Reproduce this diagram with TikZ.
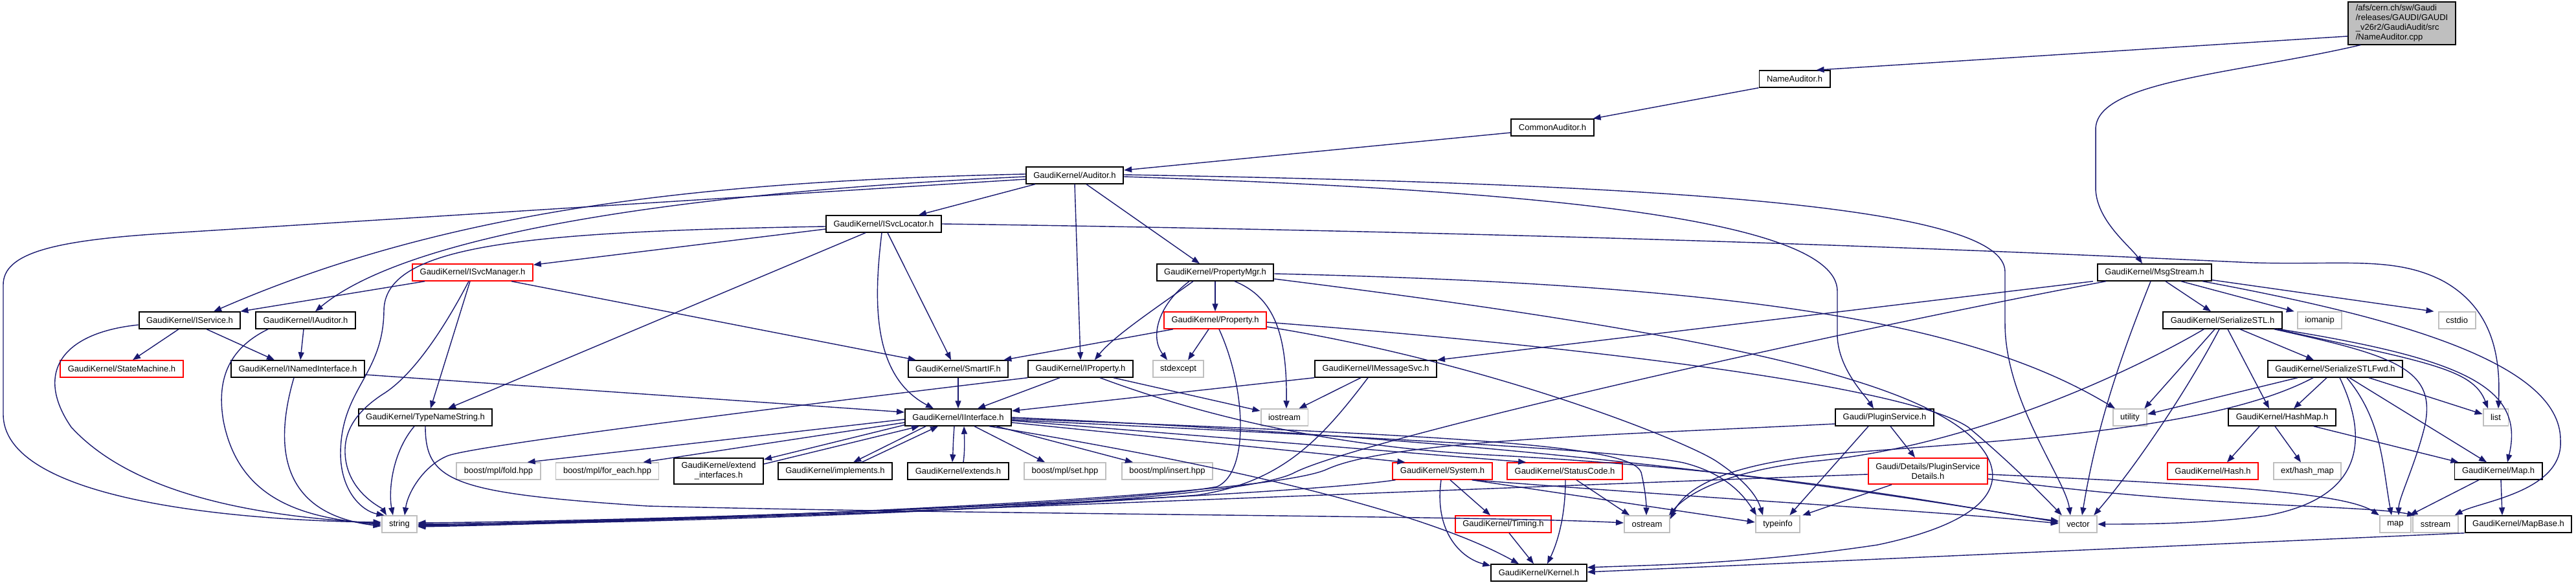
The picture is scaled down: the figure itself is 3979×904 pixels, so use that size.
\documentclass[tikz,border=0pt]{standalone}
\usepackage{fontspec}
\setmainfont{Liberation Sans}
\usetikzlibrary{arrows.meta,calc}
\definecolor{edgec}{HTML}{191970}
\definecolor{grayb}{HTML}{BFBFBF}
\begin{document}
\begin{tikzpicture}[x=0.01cm,y=-0.01cm,
  base/.style={rectangle,font=\fontsize{3.7}{4.27}\selectfont,inner xsep=0.115cm,inner ysep=0pt,minimum height=0.255cm,line width=0.55pt,fill=white},
  nb/.style={base,draw=black},
  ng/.style={base,draw=grayb},
  nr/.style={base,draw=red},
  nroot/.style={base,draw=black,fill=grayb,align=left,inner ysep=0.04cm},
  two/.style={align=center,minimum height=0.4cm},
  e/.style={draw=edgec,line width=0.4pt,-{Triangle[length=0.12cm,width=0.09cm]}},
]
\useasboundingbox (0,0) rectangle (3979,904);
\fill[white] (0,0) rectangle (3979,904);

% ---------- nodes ----------
\node[nroot] (root) at (3710,36) {/afs/cern.ch/sw/Gaudi\\/releases/GAUDI/GAUDI\\\_v26r2/GaudiAudit/src\\/NameAuditor.cpp};
\node[nb] (NameAuditor) at (2772,122) {NameAuditor.h};
\node[nb] (CommonAuditor) at (2398,197) {CommonAuditor.h};
\node[nb] (Auditor) at (1660,271) {GaudiKernel/Auditor.h};
\node[nb] (ISvcLocator) at (1365,346) {GaudiKernel/ISvcLocator.h};
\node[nr] (ISvcManager) at (730,421) {GaudiKernel/ISvcManager.h};
\node[nb] (PropertyMgr) at (1877,421) {GaudiKernel/PropertyMgr.h};
\node[nb] (MsgStream) at (3328,421) {GaudiKernel/MsgStream.h};
\node[nb] (IService) at (293,495) {GaudiKernel/IService.h};
\node[nb] (IAuditor) at (472,495) {GaudiKernel/IAuditor.h};
\node[nr] (Property) at (1877,495) {GaudiKernel/Property.h};
\node[nb] (SerializeSTL) at (3433,495) {GaudiKernel/SerializeSTL.h};
\node[ng] (iomanip) at (3583,495) {iomanip};
\node[ng] (cstdio) at (3795,495) {cstdio};
\node[nr] (StateMachine) at (188,570) {GaudiKernel/StateMachine.h};
\node[nb] (INamedInterface) at (460,570) {GaudiKernel/INamedInterface.h};
\node[nb] (SmartIF) at (1480,570) {GaudiKernel/SmartIF.h};
\node[nb] (IProperty) at (1669,570) {GaudiKernel/IProperty.h};
\node[ng] (stdexcept) at (1820,570) {stdexcept};
\node[nb] (IMessageSvc) at (2125,570) {GaudiKernel/IMessageSvc.h};
\node[nb] (SerializeSTLFwd) at (3607,570) {GaudiKernel/SerializeSTLFwd.h};
\node[nb] (TypeNameString) at (657,645) {GaudiKernel/TypeNameString.h};
\node[nb] (IInterface) at (1480,645) {GaudiKernel/IInterface.h};
\node[ng] (iostream) at (1984,645) {iostream};
\node[nb] (PluginService) at (2911,645) {Gaudi/PluginService.h};
\node[ng] (utility) at (3290,645) {utility};
\node[nb] (HashMap) at (3525,645) {GaudiKernel/HashMap.h};
\node[ng] (list) at (3855,645) {list};
\node[ng] (fold) at (770,728) {boost/mpl/fold.hpp};
\node[ng] (foreach) at (938,728) {boost/mpl/for\_each.hpp};
\node[nb,two] (extendif) at (1110,728) {GaudiKernel/extend\\\_interfaces.h};
\node[nb] (implements) at (1290,728) {GaudiKernel/implements.h};
\node[nb] (extends) at (1480,728) {GaudiKernel/extends.h};
\node[ng] (mplset) at (1645,728) {boost/mpl/set.hpp};
\node[ng] (mplinsert) at (1803,728) {boost/mpl/insert.hpp};
\node[nr] (System) at (2228,728) {GaudiKernel/System.h};
\node[nr] (StatusCode) at (2417,728) {GaudiKernel/StatusCode.h};
\node[nr,two] (PSDetails) at (2978,728) {Gaudi/Details/PluginService\\Details.h};
\node[nr] (Hash) at (3418,728) {GaudiKernel/Hash.h};
\node[ng] (hashmap) at (3564,728) {ext/hash\_map};
\node[nb] (Map) at (3859,728) {GaudiKernel/Map.h};
\node[ng] (string) at (617,810) {string};
\node[nr] (Timing) at (2322,810) {GaudiKernel/Timing.h};
\node[ng] (ostream) at (2544,810) {ostream};
\node[ng] (typeinfo) at (2746,810) {typeinfo};
\node[ng] (vector) at (3210,810) {vector};
\node[ng] (map) at (3700,810) {map};
\node[ng] (sstream) at (3762,810) {sstream};
\node[nb] (MapBase) at (3890,810) {GaudiKernel/MapBase.h};
\node[nb] (Kernel) at (2377,885) {GaudiKernel/Kernel.h};

% ---------- edges ----------
% root
\draw[e] ($(root.west)+(0,20)$) -- ($(NameAuditor.north east)+(-22,0)$);
\draw[e] ($(root.south west)+(20,0)$) .. controls (3450,115) and (3237,125) .. (3237,200) -- (3237,290) .. controls (3237,340) and (3290,380) .. ($(MsgStream.north)+(-19,0)$);
\draw[e] (NameAuditor.south west) -- ($(CommonAuditor.north east)+(-2,0)$);
\draw[e] ($(CommonAuditor.west)+(0,8)$) -- ($(Auditor.east)+(0,-8)$);

% Auditor
\draw[e] ($(Auditor.west)+(0,-2)$) .. controls (1100,280) and (700,320) .. ($(IService.north)+(37,0)$);
\draw[e] ($(Auditor.west)+(0,2)$) .. controls (1000,300) and (620,370) .. ($(IAuditor.north)+(15,0)$);
\draw[e] ($(Auditor.west)+(0,6)$) -- (250,361) .. controls (80,372) and (5,392) .. (5,440) -- (5,640) .. controls (5,780) and (400,805) .. ($(string.west)+(0,-3)$);
\draw[e] ($(Auditor.south west)+(15,0)$) -- ($(ISvcLocator.north east)+(-36,0)$);
\draw[e] ($(Auditor.south)+(18,0)$) -- ($(PropertyMgr.north)+(-24,0)$);
\draw[e] (Auditor.south) -- (IProperty.north);
\draw[e] ($(Auditor.east)+(0,2)$) .. controls (2300,292) and (2838,330) .. (2838,450) -- (2838,520) .. controls (2840,570) and (2880,610) .. ($(PluginService.north)+(-17,0)$);
\draw[e] ($(Auditor.east)+(0,-1)$) .. controls (2600,285) and (3097,320) .. (3097,420) -- (3097,500) .. controls (3097,620) and (3190,740) .. ($(vector.north)+(-12,0)$);

% ISvcLocator
\draw[e] ($(ISvcLocator.west)+(0,8)$) -- ($(ISvcManager.north east)+(0,2)$);
\draw[e] ($(ISvcLocator.south)+(6,0)$) -- ($(SmartIF.north)+(-11,0)$);
\draw[e] ($(ISvcLocator.south)+(-3,0)$) .. controls (1350,460) and (1345,580) .. ($(IInterface.north)+(-38,0)$);
\draw[e] ($(ISvcLocator.south)+(-28,0)$) -- ($(TypeNameString.north)+(35,0)$);
\draw[e] ($(ISvcLocator.west)+(0,4)$) .. controls (800,358) and (594,380) .. (593,480) .. controls (592,580) and (527,600) .. (526,700) .. controls (526,760) and (560,790) .. ($(string.north west)+(5,0)$);
\draw[e] (ISvcLocator.east) .. controls (2600,362) and (3300,398) .. (3480,406) .. controls (3620,410) and (3700,395) .. (3775,435) .. controls (3855,480) and (3862,560) .. ($(list.north)+(4,0)$);

% ISvcManager
\draw[e] ($(ISvcManager.south west)+(20,0)$) -- ($(IService.north east)+(-1,0)$);
\draw[e] ($(ISvcManager.south)+(60,0)$) -- ($(SmartIF.north west)+(13,0)$);
\draw[e] ($(ISvcManager.south)+(-4,0)$) -- ($(TypeNameString.north)+(8,0)$);
\draw[e] ($(ISvcManager.south)+(-6,0)$) .. controls (690,500) and (640,580) .. (590,610) .. controls (545,640) and (532,670) .. (533,700) .. controls (535,760) and (590,785) .. ($(string.north)+(-20,0)$);

% IService, IAuditor, INamedInterface
\draw[e] ($(IService.south)+(-17,0)$) -- ($(StateMachine.north)+(17,0)$);
\draw[e] ($(IService.south)+(26,0)$) -- ($(INamedInterface.north)+(-36,0)$);
\draw[e] ($(IService.west)+(0,7)$) .. controls (90,515) and (55,580) .. (110,660) .. controls (220,780) and (450,800) .. ($(string.west)+(0,-1)$);
\draw[e] ($(IAuditor.south)+(-3,0)$) -- ($(INamedInterface.north)+(4,0)$);
\draw[e] ($(IAuditor.south west)+(20,0)$) .. controls (350,540) and (335,590) .. (345,650) .. controls (370,780) and (480,800) .. ($(string.west)+(0,1)$);
\draw[e] ($(INamedInterface.east)+(0,9)$) -- ($(IInterface.west)+(0,-8)$);
\draw[e] ($(INamedInterface.south)+(-6,0)$) .. controls (420,700) and (440,795) .. ($(string.west)+(0,3)$);

% TypeNameString
\draw[e] ($(TypeNameString.south)+(-17,0)$) .. controls (605,700) and (600,760) .. ($(string.north)+(-10,0)$);
\draw[e] (TypeNameString.south) .. controls (657,745) and (700,762) .. (1000,782) .. controls (1500,795) and (2300,797) .. ($(ostream.west)+(0,-2)$);

% PropertyMgr
\draw[e] (PropertyMgr.south) -- (Property.north);
\draw[e] ($(PropertyMgr.south)+(-34,0)$) .. controls (1780,480) and (1720,520) .. ($(IProperty.north east)+(-60,0)$);
\draw[e] ($(PropertyMgr.south)+(-40,0)$) .. controls (1790,470) and (1775,520) .. ($(stdexcept.north)+(-17,0)$);
\draw[e] ($(PropertyMgr.south)+(30,0)$) .. controls (1970,460) and (1988,520) .. ($(iostream.north)+(3,0)$);
\draw[e] ($(PropertyMgr.east)+(0,2)$) .. controls (2700,440) and (3050,500) .. ($(utility.north)+(-23,0)$);
\draw[e] ($(PropertyMgr.east)+(0,10)$) .. controls (2600,510) and (2950,580) .. (3050,680) .. controls (3100,730) and (3100,800) .. (2900,842) .. controls (2700,872) and (2550,873) .. ($(Kernel.east)+(0,-8)$);

% Property
\draw[e] ($(Property.south west)+(15,0)$) -- ($(SmartIF.north east)+(-8,0)$);
\draw[e] ($(Property.south)+(-10,0)$) -- ($(stdexcept.north)+(15,0)$);
\draw[e] ($(Property.south)+(6,0)$) .. controls (1925,600) and (1930,730) .. (1880,752) .. controls (1700,785) and (900,806) .. ($(string.east)+(0,-2)$);
\draw[e] ($(Property.east)+(0,10)$) .. controls (2300,560) and (2600,680) .. (2650,712) .. controls (2700,745) and (2715,770) .. ($(typeinfo.north)+(-23,0)$);
\draw[e] ($(Property.east)+(0,3)$) .. controls (2500,540) and (2950,600) .. (3040,660) .. controls (3100,710) and (3150,760) .. ($(vector.north west)+(5,0)$);

% IProperty
\draw[e] ($(IProperty.south)+(-32,0)$) -- ($(IInterface.north)+(30,0)$);
\draw[e] (IProperty.south west) .. controls (1200,630) and (720,690) .. (690,705) .. controls (655,720) and (630,760) .. ($(string.north)+(8,0)$);
\draw[e] ($(IProperty.south east)+(-31,0)$) -- ($(iostream.west)+(0,-10)$);
\draw[e] ($(IProperty.south)+(30,0)$) .. controls (1850,640) and (2050,690) .. (2300,703) .. controls (2800,730) and (3050,790) .. ($(vector.west)+(0,-5)$);

% SmartIF
\draw[e] (SmartIF.south) -- (IInterface.north);

% IMessageSvc
\draw[e] (IMessageSvc.south west) -- ($(IInterface.east)+(0,-10)$);
\draw[e] ($(IMessageSvc.south)+(-23,0)$) -- ($(iostream.north east)+(-15,0)$);
\draw[e] ($(IMessageSvc.south)+(-12,0)$) .. controls (2040,680) and (1980,745) .. (1850,765) .. controls (1500,792) and (900,808) .. (string.east);

% MsgStream
\draw[e] ($(MsgStream.south west)+(-6,0)$) -- (IMessageSvc.north east);
\draw[e] ($(MsgStream.south west)+(14,0)$) .. controls (2800,520) and (2100,680) .. (2000,730) .. controls (1900,785) and (1000,808) .. ($(string.east)+(0,2)$);
\draw[e] ($(MsgStream.south)+(17,0)$) -- ($(SerializeSTL.north)+(-18,0)$);
\draw[e] ($(MsgStream.south)+(41,0)$) -- ($(iomanip.north west)+(-4,0)$);
\draw[e] ($(MsgStream.south east)+(0,-2)$) -- ($(cstdio.north west)+(-6,0)$);
\draw[e] ($(MsgStream.south east)+(-15,0)$) .. controls (3700,490) and (3955,560) .. (3955,680) .. controls (3960,760) and (3830,775) .. ($(sstream.north east)+(-6,0)$);
\draw[e] ($(MsgStream.south)+(-6,0)$) .. controls (3280,540) and (3240,650) .. ($(vector.north)+(6,0)$);

% SerializeSTL
\draw[e] ($(SerializeSTL.south)+(-12,0)$) -- ($(utility.north east)+(-5,0)$);
\draw[e] ($(SerializeSTL.south west)+(64,0)$) .. controls (3300,570) and (3050,690) .. (2800,713) .. controls (2650,730) and (2600,770) .. ($(ostream.north east)+(-2,0)$);
\draw[e] ($(SerializeSTL.south)+(-5,0)$) .. controls (3380,600) and (3300,720) .. ($(vector.north east)+(-6,0)$);
\draw[e] ($(SerializeSTL.south)+(8,0)$) -- ($(HashMap.north)+(-20,0)$);
\draw[e] ($(SerializeSTL.south)+(27,0)$) -- ($(SerializeSTLFwd.north)+(-33,0)$);
\draw[e] ($(SerializeSTL.south east)+(-13,0)$) .. controls (3700,550) and (3765,570) .. (3745,660) .. controls (3730,720) and (3705,770) .. ($(map.north)+(5,0)$);
\draw[e] ($(SerializeSTL.south east)+(-9,0)$) .. controls (3750,560) and (3820,570) .. ($(list.north)+(-12,0)$);
\draw[e] ($(SerializeSTL.south east)+(-5,0)$) .. controls (3810,555) and (3900,600) .. ($(Map.north)+(14,0)$);

% SerializeSTLFwd
\draw[e] ($(SerializeSTLFwd.south west)+(47,0)$) -- ($(utility.east)+(0,-5)$);
\draw[e] ($(SerializeSTLFwd.south)+(-34,0)$) .. controls (3420,665) and (3100,680) .. (2850,700) .. controls (2650,716) and (2600,760) .. ($(ostream.east)+(0,-8)$);
\draw[e] ($(SerializeSTLFwd.south)+(-13,0)$) -- ($(HashMap.north)+(18,0)$);
\draw[e] ($(SerializeSTLFwd.south)+(7,0)$) .. controls (3660,680) and (3650,770) .. (3500,797) .. controls (3400,810) and (3300,810) .. (vector.east);
\draw[e] ($(SerializeSTLFwd.south)+(18,0)$) .. controls (3680,650) and (3680,720) .. ($(map.north)+(-6,0)$);
\draw[e] ($(SerializeSTLFwd.south)+(22,0)$) -- ($(Map.north)+(-18,0)$);
\draw[e] ($(SerializeSTLFwd.south east)+(-53,0)$) -- ($(list.west)+(0,-5)$);

% HashMap, Map, MapBase
\draw[e] ($(HashMap.south)+(-35,0)$) -- ($(Hash.north)+(22,0)$);
\draw[e] ($(HashMap.south)+(-11,0)$) -- ($(hashmap.north)+(-10,0)$);
\draw[e] ($(HashMap.south east)+(-35,0)$) -- ($(Map.north west)+(7,0)$);
\draw[e] ($(Map.south)+(-30,0)$) -- ($(map.north east)+(-3,0)$);
\draw[e] ($(Map.south)+(4,0)$) -- ($(MapBase.north)+(-25,0)$);
\draw[e] (MapBase.south west) -- ($(Kernel.east)+(0,-1)$);

% IInterface
\draw[e] ($(IInterface.west)+(0,3)$) -- ($(fold.north east)+(-21,0)$);
\draw[e] ($(IInterface.west)+(0,8)$) -- ($(foreach.north east)+(-25,0)$);
\draw[e] ($(IInterface.south west)+(0,-2)$) -- ($(extendif.north east)+(0,3)$);
\draw[e] ($(extendif.north east)+(0,10)$) -- ($(IInterface.south west)+(23,0)$);
\draw[e] ($(IInterface.south)+(-50,0)$) -- ($(implements.north east)+(-61,0)$);
\draw[e] ($(implements.north east)+(-48,0)$) -- ($(IInterface.south)+(-31,0)$);
\draw[e] ($(IInterface.south)+(-6,0)$) .. controls (1472,685) and (1472,700) .. ($(extends.north)+(-9,0)$);
\draw[e] ($(extends.north)+(8,0)$) .. controls (1490,700) and (1490,685) .. ($(IInterface.south)+(9,0)$);
\draw[e] ($(IInterface.south)+(25,0)$) -- ($(mplset.north)+(-31,0)$);
\draw[e] ($(IInterface.south east)+(-24,0)$) -- ($(mplinsert.north)+(-53,0)$);
\draw[e] ($(IInterface.east)+(0,8)$) -- ($(System.north west)+(20,0)$);
\draw[e] ($(IInterface.east)+(0,5)$) -- ($(StatusCode.north west)+(30,0)$);
\draw[e] ($(IInterface.south east)+(-35,0)$) .. controls (1900,720) and (2200,790) .. ($(Kernel.north)+(-31,0)$);
\draw[e] ($(IInterface.east)+(0,2)$) .. controls (2300,675) and (2520,690) .. (2535,730) .. controls (2542,760) and (2543,780) .. ($(ostream.north)+(-1,0)$);
\draw[e] ($(IInterface.east)+(0,4)$) .. controls (2100,675) and (2500,695) .. (2600,715) .. controls (2660,730) and (2690,760) .. ($(typeinfo.north)+(-33,0)$);
\draw[e] (IInterface.east) .. controls (2000,665) and (2550,700) .. ($(vector.west)+(0,-3)$);

% System, StatusCode, Timing
\draw[e] ($(System.south)+(12,0)$) -- ($(Timing.north)+(-20,0)$);
\draw[e] ($(System.south)+(-2,0)$) .. controls (2215,820) and (2255,862) .. ($(Kernel.north west)+(0,3)$);
\draw[e] ($(System.south west)+(5,0)$) .. controls (2000,765) and (1200,800) .. ($(string.east)+(0,1)$);
\draw[e] ($(System.south east)+(-32,0)$) -- ($(typeinfo.west)+(0,-3)$);
\draw[e] ($(System.south east)+(-29,0)$) .. controls (2700,775) and (3000,790) .. ($(vector.west)+(0,-1)$);
\draw[e] ($(StatusCode.south)+(1,0)$) .. controls (2418,800) and (2405,840) .. ($(Kernel.north)+(13,0)$);
\draw[e] ($(StatusCode.south)+(18,0)$) -- ($(ostream.north west)+(9,0)$);
\draw[e] ($(Timing.south)+(9,0)$) -- ($(Kernel.north)+(-8,0)$);

% PluginService
\draw[e] ($(PluginService.west)+(0,10)$) .. controls (2500,672) and (2150,680) .. (2050,725) .. controls (1950,772) and (1000,806) .. ($(string.east)+(0,3)$);
\draw[e] ($(PluginService.south)+(-25,0)$) -- ($(typeinfo.north east)+(-17,0)$);
\draw[e] ($(PluginService.south)+(9,0)$) -- ($(PSDetails.north)+(-20,0)$);
\draw[e] ($(PSDetails.south west)+(37,0)$) -- ($(typeinfo.north east)+(3,0)$);
\draw[e] ($(PSDetails.west)+(0,5)$) .. controls (2400,750) and (1000,808) .. ($(string.east)+(0,4)$);
\draw[e] ($(PSDetails.east)+(0,5)$) .. controls (3400,748) and (3620,760) .. (map.north west);
\draw[e] ($(PSDetails.east)+(0,12)$) .. controls (3400,785) and (3650,780) .. ($(sstream.north west)+(4,0)$);
\end{tikzpicture}
\end{document}
